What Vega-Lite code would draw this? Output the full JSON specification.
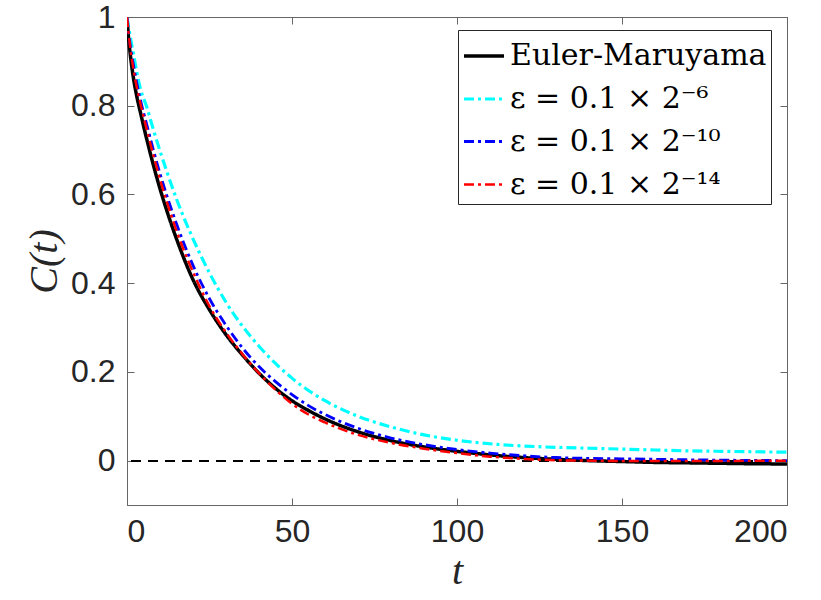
{
  "$schema": "https://vega.github.io/schema/vega-lite/v6.json",
  "width": 660,
  "height": 488,
  "autosize": "none",
  "padding": {"left": 127, "top": 17, "right": 34, "bottom": 95},
  "background": "white",
  "config": {
    "view": {"stroke": "#666", "strokeWidth": 1},
    "axis": {
      "domainColor": "#666",
      "tickColor": "#666",
      "tickSize": -7,
      "grid": false,
      "labelFont": "Liberation Sans",
      "labelFontSize": 32,
      "labelColor": "#262626",
      "titleColor": "#262626",
      "titleFont": "Liberation Serif",
      "titleFontStyle": "italic",
      "titleFontWeight": "normal",
      "titleFontSize": 40
    }
  },
  "data": {
    "values": [
      {"t": 0, "C": 1.0, "s": "Euler-Maruyama"},
      {"t": 0.5, "C": 0.95, "s": "Euler-Maruyama"},
      {"t": 1, "C": 0.915, "s": "Euler-Maruyama"},
      {"t": 2, "C": 0.86, "s": "Euler-Maruyama"},
      {"t": 3, "C": 0.82, "s": "Euler-Maruyama"},
      {"t": 4, "C": 0.787, "s": "Euler-Maruyama"},
      {"t": 6, "C": 0.724, "s": "Euler-Maruyama"},
      {"t": 8, "C": 0.666, "s": "Euler-Maruyama"},
      {"t": 10, "C": 0.613, "s": "Euler-Maruyama"},
      {"t": 12, "C": 0.565, "s": "Euler-Maruyama"},
      {"t": 15, "C": 0.5, "s": "Euler-Maruyama"},
      {"t": 20, "C": 0.408, "s": "Euler-Maruyama"},
      {"t": 25, "C": 0.34, "s": "Euler-Maruyama"},
      {"t": 30, "C": 0.284, "s": "Euler-Maruyama"},
      {"t": 35, "C": 0.238, "s": "Euler-Maruyama"},
      {"t": 40, "C": 0.197, "s": "Euler-Maruyama"},
      {"t": 45, "C": 0.163, "s": "Euler-Maruyama"},
      {"t": 50, "C": 0.135, "s": "Euler-Maruyama"},
      {"t": 55, "C": 0.113, "s": "Euler-Maruyama"},
      {"t": 60, "C": 0.094, "s": "Euler-Maruyama"},
      {"t": 70, "C": 0.065, "s": "Euler-Maruyama"},
      {"t": 80, "C": 0.045, "s": "Euler-Maruyama"},
      {"t": 90, "C": 0.031, "s": "Euler-Maruyama"},
      {"t": 100, "C": 0.021, "s": "Euler-Maruyama"},
      {"t": 110, "C": 0.013, "s": "Euler-Maruyama"},
      {"t": 120, "C": 0.007, "s": "Euler-Maruyama"},
      {"t": 130, "C": 0.003, "s": "Euler-Maruyama"},
      {"t": 140, "C": 0.0, "s": "Euler-Maruyama"},
      {"t": 150, "C": -0.002, "s": "Euler-Maruyama"},
      {"t": 160, "C": -0.004, "s": "Euler-Maruyama"},
      {"t": 170, "C": -0.005, "s": "Euler-Maruyama"},
      {"t": 180, "C": -0.006, "s": "Euler-Maruyama"},
      {"t": 190, "C": -0.007, "s": "Euler-Maruyama"},
      {"t": 200, "C": -0.0075, "s": "Euler-Maruyama"},

      {"t": 0, "C": 1.0, "s": "ε = 0.1 × 2⁻⁶"},
      {"t": 1, "C": 0.955, "s": "ε = 0.1 × 2⁻⁶"},
      {"t": 2, "C": 0.915, "s": "ε = 0.1 × 2⁻⁶"},
      {"t": 3, "C": 0.875, "s": "ε = 0.1 × 2⁻⁶"},
      {"t": 4, "C": 0.84, "s": "ε = 0.1 × 2⁻⁶"},
      {"t": 6, "C": 0.797, "s": "ε = 0.1 × 2⁻⁶"},
      {"t": 8, "C": 0.746, "s": "ε = 0.1 × 2⁻⁶"},
      {"t": 10, "C": 0.698, "s": "ε = 0.1 × 2⁻⁶"},
      {"t": 12, "C": 0.653, "s": "ε = 0.1 × 2⁻⁶"},
      {"t": 15, "C": 0.59, "s": "ε = 0.1 × 2⁻⁶"},
      {"t": 20, "C": 0.5, "s": "ε = 0.1 × 2⁻⁶"},
      {"t": 25, "C": 0.423, "s": "ε = 0.1 × 2⁻⁶"},
      {"t": 30, "C": 0.357, "s": "ε = 0.1 × 2⁻⁶"},
      {"t": 35, "C": 0.303, "s": "ε = 0.1 × 2⁻⁶"},
      {"t": 40, "C": 0.258, "s": "ε = 0.1 × 2⁻⁶"},
      {"t": 45, "C": 0.219, "s": "ε = 0.1 × 2⁻⁶"},
      {"t": 50, "C": 0.186, "s": "ε = 0.1 × 2⁻⁶"},
      {"t": 55, "C": 0.158, "s": "ε = 0.1 × 2⁻⁶"},
      {"t": 60, "C": 0.135, "s": "ε = 0.1 × 2⁻⁶"},
      {"t": 70, "C": 0.1, "s": "ε = 0.1 × 2⁻⁶"},
      {"t": 80, "C": 0.076, "s": "ε = 0.1 × 2⁻⁶"},
      {"t": 90, "C": 0.058, "s": "ε = 0.1 × 2⁻⁶"},
      {"t": 100, "C": 0.046, "s": "ε = 0.1 × 2⁻⁶"},
      {"t": 110, "C": 0.038, "s": "ε = 0.1 × 2⁻⁶"},
      {"t": 120, "C": 0.033, "s": "ε = 0.1 × 2⁻⁶"},
      {"t": 130, "C": 0.03, "s": "ε = 0.1 × 2⁻⁶"},
      {"t": 140, "C": 0.028, "s": "ε = 0.1 × 2⁻⁶"},
      {"t": 150, "C": 0.026, "s": "ε = 0.1 × 2⁻⁶"},
      {"t": 160, "C": 0.024, "s": "ε = 0.1 × 2⁻⁶"},
      {"t": 170, "C": 0.022, "s": "ε = 0.1 × 2⁻⁶"},
      {"t": 180, "C": 0.021, "s": "ε = 0.1 × 2⁻⁶"},
      {"t": 190, "C": 0.02, "s": "ε = 0.1 × 2⁻⁶"},
      {"t": 200, "C": 0.019, "s": "ε = 0.1 × 2⁻⁶"},

      {"t": 0, "C": 1.0, "s": "ε = 0.1 × 2⁻¹⁰"},
      {"t": 1, "C": 0.935, "s": "ε = 0.1 × 2⁻¹⁰"},
      {"t": 2, "C": 0.89, "s": "ε = 0.1 × 2⁻¹⁰"},
      {"t": 3, "C": 0.85, "s": "ε = 0.1 × 2⁻¹⁰"},
      {"t": 4, "C": 0.815, "s": "ε = 0.1 × 2⁻¹⁰"},
      {"t": 6, "C": 0.757, "s": "ε = 0.1 × 2⁻¹⁰"},
      {"t": 8, "C": 0.7, "s": "ε = 0.1 × 2⁻¹⁰"},
      {"t": 10, "C": 0.647, "s": "ε = 0.1 × 2⁻¹⁰"},
      {"t": 12, "C": 0.599, "s": "ε = 0.1 × 2⁻¹⁰"},
      {"t": 15, "C": 0.534, "s": "ε = 0.1 × 2⁻¹⁰"},
      {"t": 20, "C": 0.44, "s": "ε = 0.1 × 2⁻¹⁰"},
      {"t": 25, "C": 0.365, "s": "ε = 0.1 × 2⁻¹⁰"},
      {"t": 30, "C": 0.305, "s": "ε = 0.1 × 2⁻¹⁰"},
      {"t": 35, "C": 0.254, "s": "ε = 0.1 × 2⁻¹⁰"},
      {"t": 40, "C": 0.212, "s": "ε = 0.1 × 2⁻¹⁰"},
      {"t": 45, "C": 0.178, "s": "ε = 0.1 × 2⁻¹⁰"},
      {"t": 50, "C": 0.149, "s": "ε = 0.1 × 2⁻¹⁰"},
      {"t": 55, "C": 0.124, "s": "ε = 0.1 × 2⁻¹⁰"},
      {"t": 60, "C": 0.104, "s": "ε = 0.1 × 2⁻¹⁰"},
      {"t": 70, "C": 0.073, "s": "ε = 0.1 × 2⁻¹⁰"},
      {"t": 80, "C": 0.051, "s": "ε = 0.1 × 2⁻¹⁰"},
      {"t": 90, "C": 0.036, "s": "ε = 0.1 × 2⁻¹⁰"},
      {"t": 100, "C": 0.025, "s": "ε = 0.1 × 2⁻¹⁰"},
      {"t": 110, "C": 0.017, "s": "ε = 0.1 × 2⁻¹⁰"},
      {"t": 120, "C": 0.011, "s": "ε = 0.1 × 2⁻¹⁰"},
      {"t": 130, "C": 0.007, "s": "ε = 0.1 × 2⁻¹⁰"},
      {"t": 140, "C": 0.005, "s": "ε = 0.1 × 2⁻¹⁰"},
      {"t": 150, "C": 0.004, "s": "ε = 0.1 × 2⁻¹⁰"},
      {"t": 160, "C": 0.003, "s": "ε = 0.1 × 2⁻¹⁰"},
      {"t": 170, "C": 0.002, "s": "ε = 0.1 × 2⁻¹⁰"},
      {"t": 180, "C": 0.001, "s": "ε = 0.1 × 2⁻¹⁰"},
      {"t": 190, "C": 0.0005, "s": "ε = 0.1 × 2⁻¹⁰"},
      {"t": 200, "C": 0.0, "s": "ε = 0.1 × 2⁻¹⁰"},

      {"t": 0, "C": 1.0, "s": "ε = 0.1 × 2⁻¹⁴"},
      {"t": 1, "C": 0.93, "s": "ε = 0.1 × 2⁻¹⁴"},
      {"t": 2, "C": 0.88, "s": "ε = 0.1 × 2⁻¹⁴"},
      {"t": 3, "C": 0.84, "s": "ε = 0.1 × 2⁻¹⁴"},
      {"t": 4, "C": 0.807, "s": "ε = 0.1 × 2⁻¹⁴"},
      {"t": 6, "C": 0.746, "s": "ε = 0.1 × 2⁻¹⁴"},
      {"t": 8, "C": 0.688, "s": "ε = 0.1 × 2⁻¹⁴"},
      {"t": 10, "C": 0.634, "s": "ε = 0.1 × 2⁻¹⁴"},
      {"t": 12, "C": 0.585, "s": "ε = 0.1 × 2⁻¹⁴"},
      {"t": 15, "C": 0.518, "s": "ε = 0.1 × 2⁻¹⁴"},
      {"t": 20, "C": 0.425, "s": "ε = 0.1 × 2⁻¹⁴"},
      {"t": 25, "C": 0.348, "s": "ε = 0.1 × 2⁻¹⁴"},
      {"t": 30, "C": 0.289, "s": "ε = 0.1 × 2⁻¹⁴"},
      {"t": 35, "C": 0.24, "s": "ε = 0.1 × 2⁻¹⁴"},
      {"t": 40, "C": 0.197, "s": "ε = 0.1 × 2⁻¹⁴"},
      {"t": 45, "C": 0.16, "s": "ε = 0.1 × 2⁻¹⁴"},
      {"t": 50, "C": 0.128, "s": "ε = 0.1 × 2⁻¹⁴"},
      {"t": 55, "C": 0.104, "s": "ε = 0.1 × 2⁻¹⁴"},
      {"t": 60, "C": 0.086, "s": "ε = 0.1 × 2⁻¹⁴"},
      {"t": 70, "C": 0.058, "s": "ε = 0.1 × 2⁻¹⁴"},
      {"t": 80, "C": 0.04, "s": "ε = 0.1 × 2⁻¹⁴"},
      {"t": 90, "C": 0.027, "s": "ε = 0.1 × 2⁻¹⁴"},
      {"t": 100, "C": 0.017, "s": "ε = 0.1 × 2⁻¹⁴"},
      {"t": 110, "C": 0.009, "s": "ε = 0.1 × 2⁻¹⁴"},
      {"t": 120, "C": 0.004, "s": "ε = 0.1 × 2⁻¹⁴"},
      {"t": 130, "C": 0.001, "s": "ε = 0.1 × 2⁻¹⁴"},
      {"t": 140, "C": 0.0, "s": "ε = 0.1 × 2⁻¹⁴"},
      {"t": 150, "C": -0.001, "s": "ε = 0.1 × 2⁻¹⁴"},
      {"t": 160, "C": -0.001, "s": "ε = 0.1 × 2⁻¹⁴"},
      {"t": 170, "C": -0.001, "s": "ε = 0.1 × 2⁻¹⁴"},
      {"t": 180, "C": -0.001, "s": "ε = 0.1 × 2⁻¹⁴"},
      {"t": 190, "C": 0.0, "s": "ε = 0.1 × 2⁻¹⁴"},
      {"t": 200, "C": 0.0, "s": "ε = 0.1 × 2⁻¹⁴"}
    ]
  },
  "layer": [
    {
      "mark": {"type": "rule", "color": "black", "strokeWidth": 1.2, "strokeDash": [10, 7]},
      "encoding": {
        "y": {"datum": 0, "type": "quantitative", "axis": null}
      }
    },
    {
      "mark": {"type": "line", "clip": true, "interpolate": "monotone"},
      "encoding": {
        "x": {
          "field": "t", "type": "quantitative",
          "scale": {"domain": [0, 200], "nice": false, "zero": false},
          "axis": {"orient": "bottom", "values": [0, 50, 100, 150, 200], "title": "t", "labelPadding": 18, "titlePadding": 4}
        },
        "y": {
          "field": "C", "type": "quantitative",
          "scale": {"domain": [-0.1, 1], "nice": false, "zero": false},
          "axis": {"orient": "left", "values": [0, 0.2, 0.4, 0.6, 0.8, 1], "format": "~g", "title": "C(t)", "labelPadding": 19, "titlePadding": 6}
        },
        "color": {
          "field": "s", "type": "nominal",
          "scale": {
            "domain": ["Euler-Maruyama", "ε = 0.1 × 2⁻⁶", "ε = 0.1 × 2⁻¹⁰", "ε = 0.1 × 2⁻¹⁴"],
            "range": ["#000000", "#00FFFF", "#0000FF", "#FF0000"]
          },
          "legend": {
            "title": null,
            "orient": "none",
            "legendX": 331,
            "legendY": 13,
            "direction": "vertical",
            "fillColor": "white",
            "strokeColor": "#262626",
            "padding": 4,
            "rowPadding": 6,
            "symbolType": "stroke",
            "symbolSize": 1600,
            "symbolOffset": 0,
            "labelFont": "DejaVu Serif",
            "labelFontSize": 30,
            "labelColor": "black",
            "labelOffset": 4,
            "labelLimit": 400
          }
        },
        "strokeDash": {
          "field": "s", "type": "nominal",
          "scale": {
            "domain": ["Euler-Maruyama", "ε = 0.1 × 2⁻⁶", "ε = 0.1 × 2⁻¹⁰", "ε = 0.1 × 2⁻¹⁴"],
            "range": [[1, 0], [10, 4, 3, 4], [10, 4, 3, 4], [10, 4, 3, 4]]
          },
          "legend": null
        },
        "strokeWidth": {
          "field": "s", "type": "nominal",
          "scale": {
            "domain": ["Euler-Maruyama", "ε = 0.1 × 2⁻⁶", "ε = 0.1 × 2⁻¹⁰", "ε = 0.1 × 2⁻¹⁴"],
            "range": [3.5, 2.5, 2.5, 2.5]
          },
          "legend": null
        },
        "order": {"field": "t", "type": "quantitative"}
      }
    },
    {
      "mark": {"type": "point", "opacity": 0},
      "encoding": {
        "x": {"field": "t", "type": "quantitative", "axis": {"orient": "top", "values": [0, 50, 100, 150, 200], "labels": false, "title": null}},
        "y": {"field": "C", "type": "quantitative", "axis": {"orient": "right", "values": [0, 0.2, 0.4, 0.6, 0.8, 1], "labels": false, "title": null}}
      }
    }
  ],
  "resolve": {"axis": {"x": "independent", "y": "independent"}}
}
